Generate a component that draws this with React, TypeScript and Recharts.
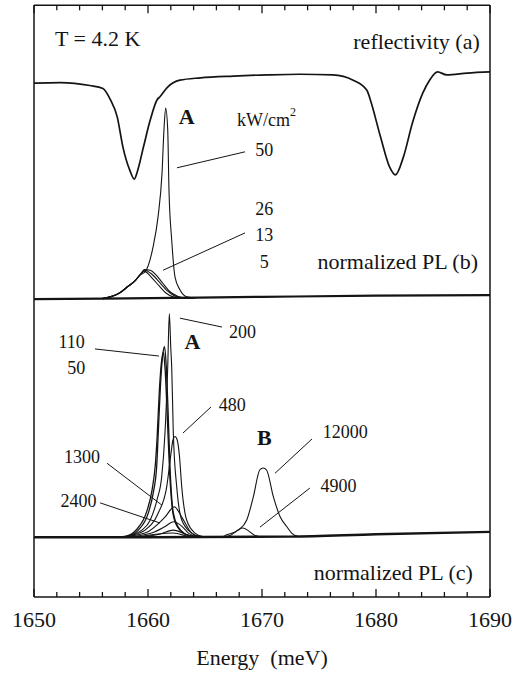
import { LineChart, Line, XAxis, YAxis, ReferenceLine, ReferenceDot } from 'recharts'

const SERIF = '"Liberation Serif", "Times New Roman", serif'
const INK = '#141414'

// energy axis (meV)
const energyTicks = [
  1650, 1652, 1654, 1656, 1658, 1660, 1662, 1664, 1666, 1668, 1670,
  1672, 1674, 1676, 1678, 1680, 1682, 1684, 1686, 1688, 1690,
]

// (a) reflectivity, offset arbitrary units
const reflE = [
  1650, 1652.3, 1654.9, 1656.05, 1656.7, 1657.3, 1657.8, 1658.4, 1658.8, 1659.1,
  1659.6, 1660.2, 1660.8, 1661.05, 1661.7, 1662.8, 1664.6, 1667.5, 1670.5, 1673.3,
  1676.2, 1678.0, 1679.2, 1679.5, 1680.4, 1681.2, 1681.7, 1682.4, 1683.2, 1684.1,
  1684.7, 1685.4, 1686.2, 1688.0, 1690,
]
const reflV = [
  86.8, 86.9, 86.4, 85.9, 84.0, 81.1, 76.0, 72.1, 70.6, 72.1,
  76.0, 80.6, 84.0, 84.5, 86.1, 87.3, 87.7, 88.0, 88.2, 88.3,
  88.2, 87.3, 85.6, 84.0, 77.7, 72.6, 71.3, 74.3, 80.1, 85.1,
  87.3, 88.7, 88.2, 88.5, 88.7,
]

// (b) normalized PL, excitation 5 / 13 / 26 / 50 kW/cm2
const plbFloorE = [1650, 1656, 1670, 1680, 1690]
const plbFloorV = [50.3, 50.4, 50.7, 50.9, 51.0]
const plb5E = [1656.0, 1656.7, 1657.5, 1658.2, 1658.9, 1659.3, 1659.7, 1660.3, 1661.0, 1661.6, 1662.2, 1663.0, 1664.0]
const plb5V = [50.4, 50.7, 51.35, 52.4, 53.5, 54.4, 55.0, 54.0, 52.5, 51.3, 50.7, 50.5, 50.5]
const plb13E = [1656.0, 1656.7, 1657.5, 1658.2, 1658.9, 1659.3, 1659.7, 1660.3, 1661.0, 1661.7, 1662.4, 1663.2, 1664.0]
const plb13V = [50.4, 50.7, 51.35, 52.4, 53.5, 54.4, 55.2, 54.6, 53.2, 51.7, 50.8, 50.5, 50.5]
const plb26E = [1656.0, 1656.7, 1657.5, 1658.2, 1658.9, 1659.3, 1659.7, 1660.2, 1660.7, 1661.3, 1661.9, 1662.6, 1663.3, 1664.0]
const plb26V = [50.4, 50.7, 51.35, 52.4, 53.5, 54.4, 55.3, 55.2, 54.4, 53.0, 51.6, 50.8, 50.5, 50.5]
const plb50E = [
  1656.0, 1656.7, 1657.5, 1658.2, 1658.9, 1659.3, 1659.74, 1660.44, 1660.88, 1661.23,
  1661.4, 1661.55, 1661.73, 1661.84, 1662.08, 1662.37, 1662.8, 1663.4, 1664.2,
]
const plb50V = [
  50.4, 50.7, 51.35, 52.4, 53.5, 54.4, 54.9, 59.1, 64.2, 71.6,
  78.9, 82.6, 78.9, 68.75, 60.3, 54.05, 51.9, 50.7, 50.5,
]

// (c) normalized PL, excitation 50 ... 12000 kW/cm2
const plcFloorE = [1650, 1660, 1672.5, 1680, 1690]
const plcFloorV = [10.1, 10.1, 10.2, 10.6, 11.0]
const plc50E = [1657.3, 1658.1, 1659.0, 1659.9, 1660.35, 1660.65, 1660.8, 1661.0, 1661.2, 1661.35, 1661.5, 1661.7, 1661.9, 1662.2, 1662.6, 1663.3, 1664.0]
const plc50V = [10.15, 10.3, 11.4, 14.5, 18.0, 22.5, 27.0, 35.0, 40.0, 41.3, 38.5, 30.0, 21.0, 14.0, 11.8, 10.6, 10.2]
const plc110E = [1657.5, 1658.27, 1659.15, 1660.03, 1660.46, 1660.76, 1660.9, 1661.1, 1661.3, 1661.45, 1661.6, 1661.75, 1661.93, 1662.22, 1662.66, 1663.3, 1664.0]
const plc110V = [10.15, 10.3, 11.3, 14.2, 17.6, 22.0, 27.7, 36.0, 41.0, 42.3, 39.0, 32.0, 22.0, 14.2, 11.8, 10.6, 10.2]
const plc200E = [1657.8, 1658.5, 1659.4, 1660.2, 1660.8, 1661.2, 1661.49, 1661.73, 1661.87, 1662.0, 1662.08, 1662.22, 1662.52, 1662.96, 1663.83, 1664.6]
const plc200V = [10.15, 10.4, 11.2, 13.0, 16.5, 20.3, 27.7, 38.85, 47.9, 42.0, 38.85, 27.7, 18.6, 13.0, 10.8, 10.2]
const plc480E = [1657.5, 1658.5, 1659.74, 1660.9, 1661.64, 1662.0, 1662.2, 1662.37, 1662.55, 1662.75, 1662.96, 1663.39, 1664.12, 1664.8]
const plc480V = [10.1, 10.4, 11.3, 14.2, 18.6, 24.0, 26.6, 27.1, 26.6, 24.0, 18.6, 13.0, 10.8, 10.2]
const plc1300E = [1657.5, 1659.74, 1661.49, 1662.31, 1662.96, 1663.83, 1664.5]
const plc1300V = [10.1, 10.8, 13.5, 15.25, 13.5, 10.8, 10.2]
const plc2400E = [1658.0, 1660.32, 1661.5, 1662.22, 1663.0, 1663.54, 1664.3]
const plc2400V = [10.1, 10.8, 11.9, 12.7, 11.9, 10.8, 10.2]
const plc4900E = [1658.5, 1661.0, 1662.22, 1663.3, 1664.2, 1666.5, 1667.2, 1668.3, 1669.4, 1670.2]
const plc4900V = [10.1, 10.6, 11.3, 10.6, 10.1, 10.1, 10.4, 11.65, 10.4, 10.1]
const plc12000E = [1659.0, 1662.2, 1664.0, 1666.5, 1666.9, 1667.92, 1668.66, 1669.24, 1669.8, 1670.1, 1670.4, 1671.0, 1671.58, 1672.17, 1672.6, 1673.2]
const plc12000V = [10.1, 10.8, 10.1, 10.15, 10.5, 11.3, 13.0, 16.9, 21.45, 21.8, 21.45, 16.9, 13.6, 11.9, 10.8, 10.2]

const toPts = (es: number[], vs: number[]) => es.map((e, i) => ({ e, v: vs[i] }))

const traces = [
  { id: 'refl', pts: toPts(reflE, reflV), w: 1.7 },
  { id: 'plbFloor', pts: toPts(plbFloorE, plbFloorV), w: 2.2 },
  { id: 'plb5', pts: toPts(plb5E, plb5V), w: 1.1 },
  { id: 'plb13', pts: toPts(plb13E, plb13V), w: 1.1 },
  { id: 'plb26', pts: toPts(plb26E, plb26V), w: 1.1 },
  { id: 'plb50', pts: toPts(plb50E, plb50V), w: 1.1 },
  { id: 'plcFloor', pts: toPts(plcFloorE, plcFloorV), w: 2.4 },
  { id: 'plc50', pts: toPts(plc50E, plc50V), w: 1.3 },
  { id: 'plc110', pts: toPts(plc110E, plc110V), w: 1.3 },
  { id: 'plc200', pts: toPts(plc200E, plc200V), w: 1.1 },
  { id: 'plc480', pts: toPts(plc480E, plc480V), w: 1.1 },
  { id: 'plc1300', pts: toPts(plc1300E, plc1300V), w: 1.1 },
  { id: 'plc2400', pts: toPts(plc2400E, plc2400V), w: 1.1 },
  { id: 'plc4900', pts: toPts(plc4900E, plc4900V), w: 1.1 },
  { id: 'plc12000', pts: toPts(plc12000E, plc12000V), w: 1.1 },
]

// text annotations, placed in data coordinates
const notes = [
  { t: 'T = 4.2 K', e: 1651.84, v: 94.4, a: 'start', s: 22 },
  { t: 'reflectivity (a)', e: 1689.1, v: 93.8, a: 'end', s: 22 },
  { t: 'A', e: 1663.4, v: 81.1, s: 22, b: true },
  { t: 'kW/cm', sup: '2', e: 1667.8, v: 80.6, a: 'start', s: 18 },
  { t: '50', e: 1670.2, v: 75.5, s: 18 },
  { t: '26', e: 1670.2, v: 65.5, s: 18 },
  { t: '13', e: 1670.2, v: 61.1, s: 18 },
  { t: '5', e: 1670.2, v: 56.6, s: 18 },
  { t: 'normalized PL (b)', e: 1688.95, v: 56.6, a: 'end', s: 22 },
  { t: '200', e: 1668.3, v: 44.8, s: 18 },
  { t: '110', e: 1653.3, v: 43.1, s: 18 },
  { t: '50', e: 1653.7, v: 38.7, s: 18 },
  { t: 'A', e: 1663.9, v: 43.1, s: 22, b: true },
  { t: '480', e: 1667.4, v: 32.4, s: 18 },
  { t: 'B', e: 1670.2, v: 27.0, s: 22, b: true },
  { t: '12000', e: 1677.3, v: 27.9, s: 18 },
  { t: '1300', e: 1654.2, v: 23.6, s: 18 },
  { t: '2400', e: 1653.9, v: 16.2, s: 18 },
  { t: '4900', e: 1676.7, v: 18.75, s: 18 },
  { t: 'normalized PL (c)', e: 1688.5, v: 4.2, a: 'end', s: 22 },
]

// pointer lines from the power labels to their curves
const leaders = [
  [1662.54, 72.5, 1668.51, 75.2],
  [1661.32, 55.2, 1668.51, 61.5],
  [1662.8, 47.1, 1666.5, 45.6],
  [1655.35, 41.9, 1660.96, 40.7],
  [1663.07, 27.7, 1665.53, 32.1],
  [1671.14, 20.9, 1674.39, 26.7],
  [1656.4, 22.6, 1661.23, 15.5],
  [1655.8, 15.9, 1661.05, 12.5],
  [1669.82, 11.8, 1674.2, 18.4],
]

// top frame: inward ticks hanging from the top of the y range
const TOP = 99.95
const MAJOR_LEN = 1.35
const MINOR_LEN = 0.85

function EnergyTick({ x, y, payload }: any) {
  const v = payload.value
  const major = v % 10 === 0
  const len = major ? 8 : 5
  return (
    <g>
      <path d={`M${x},${y}V${y - len}`} stroke={INK} strokeWidth={1.3} />
      {major && (
        <text x={x} y={y + 30} textAnchor="middle" fontSize={22} fontFamily={SERIF} fill={INK}>
          {v}
        </text>
      )}
    </g>
  )
}

function noteShape(n: any) {
  return (p: any) => (
    <text
      x={p.cx}
      y={p.cy}
      textAnchor={n.a ?? 'middle'}
      dominantBaseline="central"
      fontSize={n.s}
      fontWeight={n.b ? 'bold' : 'normal'}
      fontFamily={SERIF}
      fill={INK}
    >
      {n.t}
      {n.sup && (
        <tspan dy={-8} fontSize={12}>
          {n.sup}
        </tspan>
      )}
    </text>
  )
}

export default function App() {
  return (
    <div style={{ position: 'absolute', left: 0, top: 0, width: 514, height: 675, background: '#fff' }}>
      <LineChart width={514} height={675} margin={{ top: 5, right: 23, bottom: 0, left: 33 }}>
        <XAxis
          dataKey="e"
          type="number"
          domain={[1650, 1690]}
          allowDataOverflow
          ticks={energyTicks}
          interval={0}
          height={78}
          tickSize={0}
          tickMargin={0}
          axisLine={{ stroke: INK, strokeWidth: 1.5 }}
          tickLine={false}
          tick={<EnergyTick />}
          label={{
            value: 'Energy\u00a0 (meV)',
            position: 'insideBottom',
            offset: 10,
            fontSize: 22,
            fontFamily: SERIF,
            fill: INK,
          }}
        />
        <YAxis
          type="number"
          domain={[0, 100]}
          allowDataOverflow
          width={1}
          tick={false}
          tickLine={false}
          axisLine={{ stroke: INK, strokeWidth: 1.5 }}
        />
        <YAxis
          yAxisId="r"
          orientation="right"
          type="number"
          domain={[0, 100]}
          allowDataOverflow
          width={1}
          tick={false}
          tickLine={false}
          axisLine={{ stroke: INK, strokeWidth: 1.5 }}
        />
        <ReferenceLine y={TOP} stroke={INK} strokeWidth={1.5} />
        {energyTicks.map((e) => (
          <ReferenceLine
            key={'t' + e}
            segment={[
              { x: e, y: TOP },
              { x: e, y: TOP - (e % 10 === 0 ? MAJOR_LEN : MINOR_LEN) },
            ]}
            stroke={INK}
            strokeWidth={1.3}
          />
        ))}
        {traces.map((tr) => (
          <Line
            key={tr.id}
            data={tr.pts}
            dataKey="v"
            type="monotone"
            dot={false}
            activeDot={false}
            stroke={INK}
            strokeWidth={tr.w}
            isAnimationActive={false}
          />
        ))}
        {leaders.map(([e1, v1, e2, v2], i) => (
          <ReferenceLine
            key={'l' + i}
            segment={[
              { x: e1, y: v1 },
              { x: e2, y: v2 },
            ]}
            stroke={INK}
            strokeWidth={1}
          />
        ))}
        {notes.map((n, i) => (
          <ReferenceDot key={'n' + i} x={n.e} y={n.v} r={0} shape={noteShape(n)} />
        ))}
      </LineChart>
    </div>
  )
}
